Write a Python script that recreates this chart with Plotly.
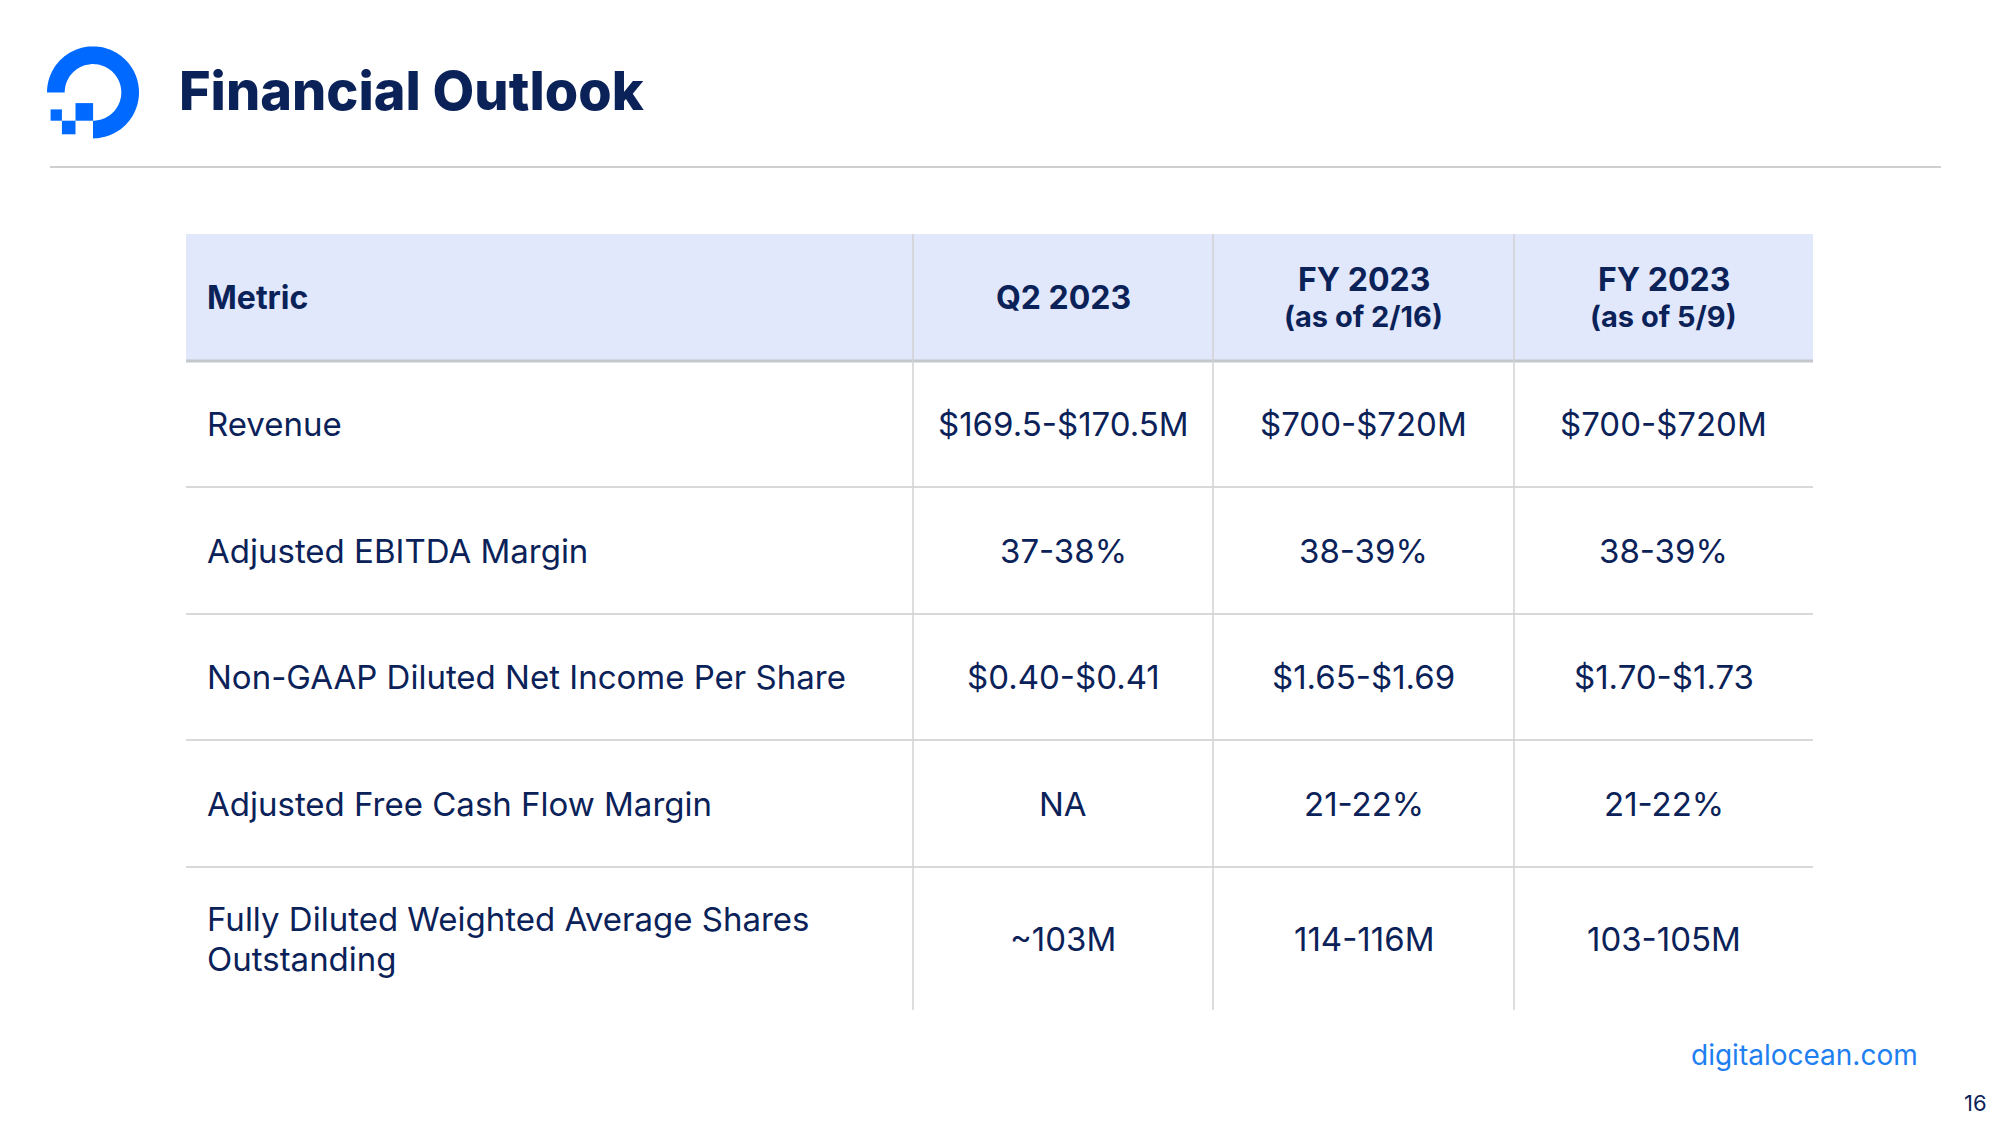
import numpy as np
import plotly.graph_objects as go

# ---------------- data ----------------
title = "Financial Outlook"
header_main = ["Metric", "Q2 2023", "FY 2023", "FY 2023"]
header_sub = ["", "", "(as of 2/16)", "(as of 5/9)"]
metrics = [
    "Revenue",
    "Adjusted EBITDA Margin",
    "Non-GAAP Diluted Net Income Per Share",
    "Adjusted Free Cash Flow Margin",
    "Fully Diluted Weighted Average Shares<br>Outstanding",
]
q2_2023 = ["$169.5-$170.5M", "37-38%", "$0.40-$0.41", "NA", "~103M"]
fy2023_feb = ["$700-$720M", "38-39%", "$1.65-$1.69", "21-22%", "114-116M"]
fy2023_may = ["$700-$720M", "38-39%", "$1.70-$1.73", "21-22%", "103-105M"]
footer_url = "digitalocean.com"
page_number = "16"

# ---------------- layout / style ----------------
W, H = 2000, 1125
OFF = 8  # page body margin
NAVY = "#0b2259"
BLUE = "#0069ff"
LINK = "#1e80f0"
FONT = "Inter"
col_edges = [186, 913, 1213, 1514, 1813]
header_top, header_bot = 234, 361
row_edges = [361, 487, 614, 740, 867, 1010]
body_size = 33
head_size = 32
sub_size = 29
line_gap = 40  # spacing between wrapped lines in a cell
pad_left = 19

fig = go.Figure()
shapes = []
ann = []

# logo (ring + squares)
cx, cy, ro, ri = 93, 92.4, 46, 28.3
th = np.linspace(np.pi, 2.5 * np.pi, 90)
outer = [(cx + ro * np.cos(t), cy + ro * np.sin(t)) for t in th]
inner = [(cx + ri * np.cos(t), cy + ri * np.sin(t)) for t in th[::-1]]
pts = outer + inner
path = "M " + " L ".join(f"{x:.2f},{y:.2f}" for x, y in pts) + " Z"
shapes.append(dict(type="path", path=path, xref="x", yref="y",
                   fillcolor=BLUE, line=dict(width=0)))
for x0, y0, x1, y1 in [(75.5, 103.1, 93.1, 120.7), (61.9, 120.7, 75.5, 134.3), (50.6, 109.4, 61.9, 120.7)]:
    shapes.append(dict(type="rect", x0=x0, y0=y0, x1=x1, y1=y1, xref="x", yref="y",
                       fillcolor=BLUE, line=dict(width=0)))

# title + rule
ann.append(dict(x=177, y=90, text=title, xanchor="left", yanchor="middle", showarrow=False,
                font=dict(family=FONT, size=54, color=NAVY, weight=800)))
shapes.append(dict(type="line", x0=50, x1=1941, y0=167, y1=167, xref="x", yref="y",
                   line=dict(color="#cfcfcf", width=2)))

# table header
shapes.append(dict(type="rect", x0=col_edges[0], x1=col_edges[-1], y0=header_top, y1=header_bot,
                   xref="x", yref="y", fillcolor="#e1e8fb", line=dict(width=0), layer="below"))
# horizontal rules
for i, yv in enumerate(row_edges[:-1]):
    shapes.append(dict(type="line", x0=col_edges[0], x1=col_edges[-1], y0=yv, y1=yv,
                       xref="x", yref="y",
                       line=dict(color="#c4c8cc" if i == 0 else "#d9d9d9", width=3 if i == 0 else 2)))
# vertical rules
for xv in col_edges[1:-1]:
    shapes.append(dict(type="line", x0=xv, x1=xv, y0=header_top, y1=row_edges[-1],
                       xref="x", yref="y", line=dict(color="#d2d2d2", width=1.5)))

# header text
hc = (header_top + header_bot) / 2
for j, (m, s) in enumerate(zip(header_main, header_sub)):
    if j == 0:
        xv, xa = col_edges[0] + pad_left, "left"
    else:
        xv, xa = (col_edges[j] + col_edges[j + 1]) / 2, "center"
    if s:
        ann.append(dict(x=xv, y=hc - 18, text=m, xanchor=xa, yanchor="middle", showarrow=False,
                        font=dict(family=FONT, size=head_size, color=NAVY, weight=700)))
        ann.append(dict(x=xv, y=hc + 19, text=s, xanchor=xa, yanchor="middle", showarrow=False,
                        font=dict(family=FONT, size=sub_size, color=NAVY, weight=700)))
    else:
        ann.append(dict(x=xv, y=hc, text=m, xanchor=xa, yanchor="middle", showarrow=False,
                        font=dict(family=FONT, size=head_size, color=NAVY, weight=700)))

# body text
columns = [metrics, q2_2023, fy2023_feb, fy2023_may]
for j, col in enumerate(columns):
    for i, txt in enumerate(col):
        yc = (row_edges[i] + row_edges[i + 1]) / 2
        if j == 0:
            xv, xa = col_edges[0] + pad_left, "left"
        else:
            xv, xa = (col_edges[j] + col_edges[j + 1]) / 2, "center"
        lines = txt.split("<br>")
        n = len(lines)
        for k, ln in enumerate(lines):
            yv = yc + (k - (n - 1) / 2) * line_gap
            ann.append(dict(x=xv, y=yv, text=ln, xanchor=xa, yanchor="middle",
                            showarrow=False, font=dict(family=FONT, size=body_size, color=NAVY)))

# footer
ann.append(dict(x=1920, y=1055, text=footer_url, xanchor="right", yanchor="middle", showarrow=False,
                font=dict(family=FONT, size=28, color=LINK)))
ann.append(dict(x=1989, y=1103, text=page_number, xanchor="right", yanchor="middle", showarrow=False,
                font=dict(family=FONT, size=22, color=NAVY)))

# axes in page-pixel units; the page body adds an 8px margin
fig.update_layout(
    width=W - OFF, height=H - OFF, margin=dict(l=0, r=0, t=0, b=0),
    paper_bgcolor="white", plot_bgcolor="white",
    xaxis=dict(range=[OFF, W], visible=False, fixedrange=True),
    yaxis=dict(range=[H, OFF], visible=False, fixedrange=True),
    shapes=shapes, annotations=ann, showlegend=False,
)
fig.write_html("out.html")
